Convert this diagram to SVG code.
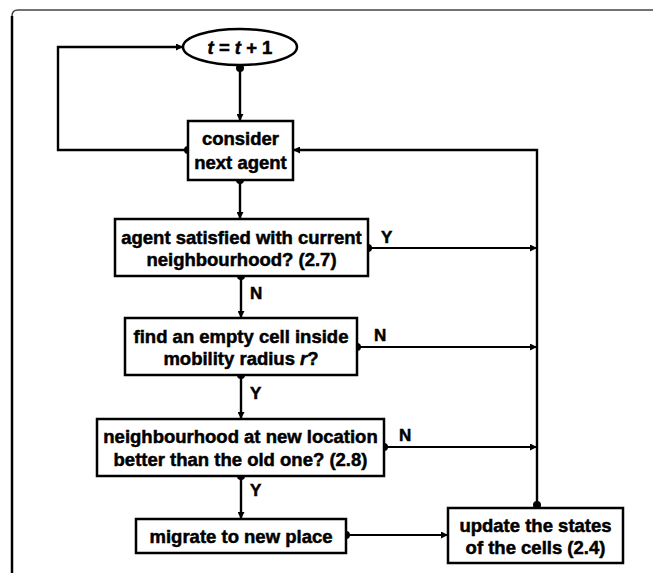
<svg xmlns="http://www.w3.org/2000/svg" width="653" height="573" viewBox="0 0 653 573">
<style>
.box{fill:#fff;stroke:#000;stroke-width:2.5}
.t{font-family:"Liberation Sans",Arial,sans-serif;font-weight:bold;font-size:18.5px;fill:#000;stroke:#000;stroke-width:0.5;text-anchor:middle;dominant-baseline:central}
.lbl{font-family:"Liberation Sans",Arial,sans-serif;font-weight:bold;font-size:17px;fill:#000;stroke:#000;stroke-width:0.5;dominant-baseline:central}
.c{fill:none;stroke:#000;stroke-width:2.4}
.h{fill:none;stroke:#000;stroke-width:1.8}
</style>
<defs>
<marker id="arr" viewBox="0 0 10 10" refX="10" refY="5" markerWidth="9" markerHeight="7" markerUnits="userSpaceOnUse" orient="auto">
<path d="M0,0 L10,5 L0,10 Z" fill="#000"/>
</marker>
<marker id="dot" viewBox="0 0 10 10" refX="5" refY="5" markerWidth="8" markerHeight="8" markerUnits="userSpaceOnUse" orient="auto">
<circle cx="5" cy="5" r="5" fill="#000"/>
</marker>
</defs>
<rect width="653" height="573" fill="#fff"/>
<g id="frame">
<path d="M653,10 L18,10 Q12,10 12,16 L12,573" fill="none" stroke="#444" stroke-width="1.5"/>
<path d="M12,16 L12,573" fill="none" stroke="#000" stroke-width="2.5"/>
</g>
<g id="connectors">
<path class="c" d="M188,150 L58,150 L58,47 L183,47" marker-start="url(#dot)" marker-end="url(#arr)"/>
<path class="c" d="M240,68 L240,121" marker-start="url(#dot)" marker-end="url(#arr)"/>
<path class="c" d="M240,180 L240,219" marker-start="url(#dot)" marker-end="url(#arr)"/>
<path class="c" d="M241,276 L241,318" marker-start="url(#dot)" marker-end="url(#arr)"/>
<path class="c" d="M241,375 L241,419" marker-start="url(#dot)" marker-end="url(#arr)"/>
<path class="c" d="M241,476 L241,519" marker-start="url(#dot)" marker-end="url(#arr)"/>
<path class="h" d="M368,248 L537,248" marker-start="url(#dot)" marker-end="url(#arr)"/>
<path class="h" d="M357,347 L537,347" marker-start="url(#dot)" marker-end="url(#arr)"/>
<path class="h" d="M384,447 L537,447" marker-start="url(#dot)" marker-end="url(#arr)"/>
<path class="h" d="M346,535 L448,535" marker-start="url(#dot)" marker-end="url(#arr)"/>
<path class="c" d="M537,505 L537,150 L293,150" marker-start="url(#dot)" marker-end="url(#arr)"/>
<text class="lbl" x="381" y="237">Y</text>
<text class="lbl" x="250" y="293">N</text>
<text class="lbl" x="374" y="335">N</text>
<text class="lbl" x="250" y="393">Y</text>
<text class="lbl" x="399" y="435">N</text>
<text class="lbl" x="250" y="490">Y</text>
</g>
<g id="n_tick">
<ellipse cx="240" cy="47" rx="57" ry="18" fill="#fff" stroke="#000" stroke-width="2.5"/>
<text class="t" x="240" y="47" font-size="19.5"><tspan font-style="italic">t</tspan> = <tspan font-style="italic">t</tspan> + 1</text>
</g>
<g id="n_consider">
<rect class="box" x="188" y="121" width="105" height="59"/>
<text class="t" x="240.5" y="138">consider</text>
<text class="t" x="240.5" y="162">next agent</text>
</g>
<g id="n_satisfied">
<rect class="box" x="115" y="219" width="253" height="57"/>
<text class="t" x="241.5" y="237">agent satisfied with current</text>
<text class="t" x="241.5" y="259">neighbourhood? (2.7)</text>
</g>
<g id="n_find">
<rect class="box" x="125" y="318" width="232" height="57"/>
<text class="t" x="241" y="336">find an empty cell inside</text>
<text class="t" x="241" y="358">mobility radius <tspan font-style="italic">r</tspan>?</text>
</g>
<g id="n_better">
<rect class="box" x="97" y="419" width="287" height="57"/>
<text class="t" x="240.5" y="436">neighbourhood at new location</text>
<text class="t" x="240.5" y="459">better than the old one? (2.8)</text>
</g>
<g id="n_migrate">
<rect class="box" x="136" y="519" width="210" height="34"/>
<text class="t" x="241" y="536">migrate to new place</text>
</g>
<g id="n_update">
<rect class="box" x="448" y="508" width="175" height="55"/>
<text class="t" x="535.5" y="525">update the states</text>
<text class="t" x="535.5" y="547">of the cells (2.4)</text>
</g>
</svg>
